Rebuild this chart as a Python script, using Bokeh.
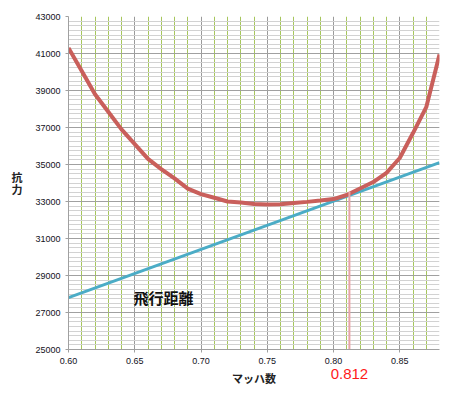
from bokeh.plotting import figure
from bokeh.models import Range1d, FixedTicker, NumeralTickFormatter, Label, LinearAxis
from bokeh.embed import file_html
from bokeh.resources import INLINE

# Data
mach = [0.60, 0.61, 0.62, 0.63, 0.64, 0.65, 0.66, 0.67, 0.68, 0.69, 0.70,
        0.71, 0.72, 0.73, 0.74, 0.75, 0.76, 0.77, 0.78, 0.79, 0.80,
        0.81, 0.82, 0.83, 0.84, 0.85, 0.86, 0.87, 0.88]
drag = [41300, 40050, 38800, 37850, 36900, 36100, 35300, 34750, 34250, 33700, 33400,
        33200, 33000, 32950, 32870, 32840, 32850, 32920, 32980, 33050, 33130,
        33350, 33700, 34050, 34550, 35350, 36700, 38100, 40950]
range_mach = [0.60, 0.88]
range_line = [27800, 35100]
opt_mach = 0.812
opt_drag = 33530
x_ticks = [0.60, 0.65, 0.70, 0.75, 0.80, 0.85]
x_minor = [0.61, 0.62, 0.63, 0.64, 0.66, 0.67, 0.68, 0.69, 0.71, 0.72, 0.73, 0.74,
           0.76, 0.77, 0.78, 0.79, 0.81, 0.82, 0.83, 0.84, 0.86, 0.87, 0.88]
y_ticks = [25000, 27000, 29000, 31000, 33000, 35000, 37000, 39000, 41000, 43000]
y_minor = [v for v in range(25000, 43001, 250)]
y_title_chars = ["抗", "力"]
y_title_pos = [34300, 33700]

p = figure(width=449, height=397, x_range=Range1d(0.60, 0.88), y_range=Range1d(25000, 43000),
           output_backend="svg", toolbar_location=None,
           min_border_left=68, min_border_right=10, min_border_top=16, min_border_bottom=48)
p.outline_line_color = None
p.background_fill_color = "white"
p.border_fill_color = "white"

p.xaxis.ticker = FixedTicker(ticks=x_ticks, minor_ticks=x_minor)
p.yaxis.ticker = FixedTicker(ticks=y_ticks, minor_ticks=y_minor)
p.xaxis.formatter = NumeralTickFormatter(format="0.00")
p.yaxis.formatter = NumeralTickFormatter(format="0")

for ax in (p.xaxis[0], p.yaxis[0]):
    ax.major_label_text_font = "Liberation Sans"
    ax.major_label_text_font_size = "9px"
    ax.major_label_text_color = "#111122"
    ax.axis_line_color = "#a0a0a0"
    ax.major_tick_line_color = "#a0a0a0"
    ax.major_tick_out = 3
    ax.major_tick_in = 0
    ax.minor_tick_out = 0
    ax.minor_tick_in = 0

p.xaxis.axis_label = "マッハ数"
p.xaxis.axis_label_text_font = "Noto Sans CJK JP"
p.xaxis.axis_label_text_font_style = "bold"
p.xaxis.axis_label_text_font_size = "11px"
p.xaxis.axis_label_text_color = "#222222"
p.xaxis.axis_label_standoff = 3

# red value under the axis, on the same line as the axis title
ax_opt = LinearAxis(ticker=FixedTicker(ticks=[opt_mach]),
                    major_label_overrides={opt_mach: "0.812"},
                    axis_line_color=None, major_tick_line_color=None,
                    minor_tick_line_color=None, major_tick_out=0, major_tick_in=0,
                    minor_tick_out=0, minor_tick_in=0,
                    major_label_standoff=-20,
                    major_label_text_font="Liberation Sans",
                    major_label_text_font_size="15px",
                    major_label_text_color="#ff1a1a")
p.add_layout(ax_opt, "below")

# stacked vertical y title
ax_title = LinearAxis(ticker=FixedTicker(ticks=y_title_pos),
                      major_label_overrides={y_title_pos[0]: y_title_chars[0],
                                             y_title_pos[1]: y_title_chars[1]},
                      axis_line_color=None, major_tick_line_color=None,
                      minor_tick_line_color=None, major_tick_out=0, major_tick_in=0,
                      minor_tick_out=0, minor_tick_in=0,
                      major_label_standoff=10,
                      major_label_text_font="Noto Sans CJK JP",
                      major_label_text_font_style="bold",
                      major_label_text_font_size="11px",
                      major_label_text_color="#222222")
p.add_layout(ax_title, "left")

p.xgrid.grid_line_color = "#9a9a9a"
p.xgrid.minor_grid_line_color = "#a6c65c"
p.ygrid.grid_line_color = "#a0a0a0"
p.ygrid.minor_grid_line_color = "#d2d2d2"

# lines
p.line(range_mach, range_line, line_color="#4bacc6", line_width=3)
p.line(mach, drag, line_color="#c95f5b", line_width=4)
p.segment(x0=[opt_mach], y0=[25000], x1=[opt_mach], y1=[opt_drag],
          line_color="#e8a3a6", line_width=2)

p.add_layout(Label(x=0.649, y=27800, text="飛行距離", text_font="Noto Sans CJK JP",
                   text_font_size="15px", text_font_style="bold", text_color="#111111",
                   text_align="left", text_baseline="middle"))

open("out.html", "w").write(file_html(p, INLINE))
